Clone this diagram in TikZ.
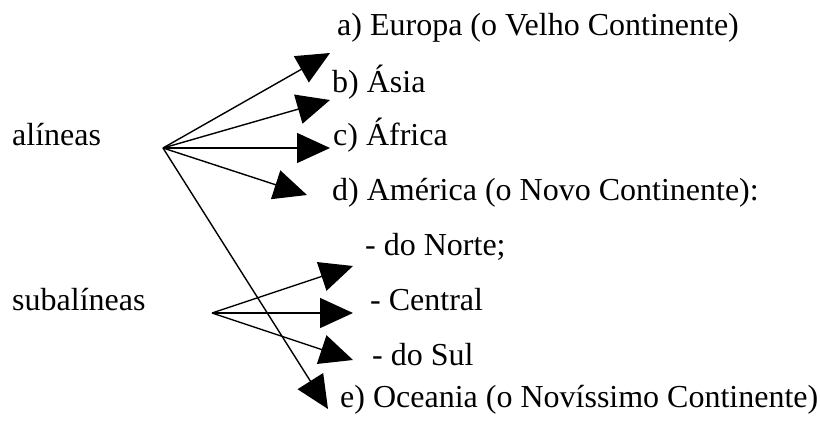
\documentclass[tikz,border=0pt]{standalone}
\usepackage{fontspec}
\setmainfont{Liberation Serif}
\usetikzlibrary{arrows.meta}

\tikzset{
  item/.style={anchor=base west, inner sep=0pt, font=\fontsize{32}{38}\selectfont},
  seta/.style={line width=1.4pt, -{Triangle[length=33pt, width=30pt]}}
}

\begin{document}
\begin{tikzpicture}[x=1pt, y=-1pt]
\useasboundingbox (0,0) rectangle (820,424);
% textos
\node[item] (alin) at (12,145) {alíneas};
\node[item] (subalin) at (12,310) {subalíneas};
\node[item] (a) at (337,35) {a) Europa (o Velho Continente)};
\node[item] (b) at (332,92) {b) Ásia};
\node[item] (c) at (333,145) {c) África};
\node[item] (d) at (332,200) {d) América (o Novo Continente):};
\node[item] (norte) at (365,255) {- do Norte;};
\node[item] (central) at (370,310) {- Central};
\node[item] (sul) at (372,365) {- do Sul};
\node[item] (e) at (340,407) {e) Oceania (o Novíssimo Continente)};
% pontos das setas
\coordinate (oa) at (163,148);
\coordinate (os) at (212,313);
\coordinate (ta) at (330,53);
\coordinate (tb) at (330,100);
\coordinate (tc) at (330,148);
\coordinate (td) at (307,195);
\coordinate (te) at (328,409);
\coordinate (tn) at (353,266);
\coordinate (tm) at (353,313);
\coordinate (ts) at (353,360);
% alineas
\foreach \t in {ta,tb,tc,td,te}{\draw[seta] (oa) -- (\t);}
% subalineas
\foreach \t in {tn,tm,ts}{\draw[seta] (os) -- (\t);}
\end{tikzpicture}
\end{document}
